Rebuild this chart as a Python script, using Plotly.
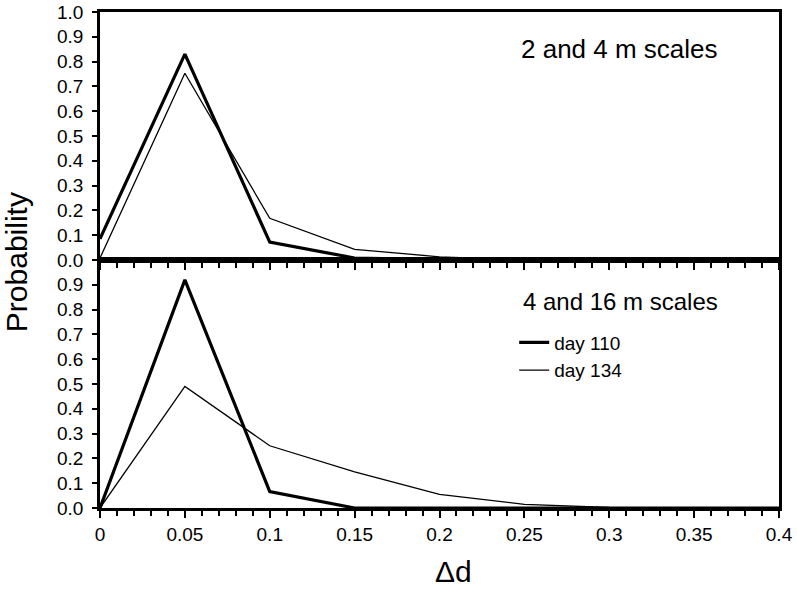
import plotly.graph_objects as go
from plotly.subplots import make_subplots

delta_d = [0, 0.05, 0.1, 0.15, 0.2, 0.25, 0.3, 0.35, 0.4]
top_day110 = [0.085, 0.83, 0.072, 0.008, 0.002, 0, 0, 0, 0]
top_day134 = [0.008, 0.753, 0.168, 0.043, 0.013, 0, 0, 0, 0]
bot_day110 = [0.0, 0.92, 0.066, 0, 0, 0, 0, 0, 0]
bot_day134 = [0.0, 0.49, 0.251, 0.146, 0.055, 0.015, 0.002, 0, 0]

x_ticks = [0, 0.05, 0.1, 0.15, 0.2, 0.25, 0.3, 0.35, 0.4]
x_labels = ["0", "0.05", "0.1", "0.15", "0.2", "0.25", "0.3", "0.35", "0.4"]
y_top_ticks = [round(i * 0.1, 1) for i in range(11)]
y_bot_ticks = [round(i * 0.1, 1) for i in range(10)]

FONT = "Liberation Sans, Arial, sans-serif"

fig = make_subplots(rows=2, cols=1, vertical_spacing=0, shared_xaxes=False)

fig.add_trace(go.Scatter(x=delta_d, y=top_day110, mode="lines",
                         line=dict(color="black", width=3.2), showlegend=False,
                         name="day 110"), row=1, col=1)
fig.add_trace(go.Scatter(x=delta_d, y=top_day134, mode="lines",
                         line=dict(color="black", width=1.3), showlegend=False,
                         name="day 134"), row=1, col=1)
fig.add_trace(go.Scatter(x=delta_d, y=bot_day110, mode="lines",
                         line=dict(color="black", width=3.2), name="day 110"),
              row=2, col=1)
fig.add_trace(go.Scatter(x=delta_d, y=bot_day134, mode="lines",
                         line=dict(color="black", width=1.3), name="day 134"),
              row=2, col=1)

xcommon = dict(range=[0, 0.4], tickvals=x_ticks, ticktext=x_labels,
               ticks="outside", ticklen=7, tickwidth=2, tickcolor="black",
               minor=dict(dtick=0.01, ticks="outside", ticklen=5, tickwidth=1.5,
                          tickcolor="black"),
               showline=True, linecolor="black", linewidth=2.5, mirror=True,
               showgrid=False, zeroline=False, automargin=False,
               tickfont=dict(family=FONT, size=19, color="black"))
fig.update_xaxes(**xcommon)
fig.update_xaxes(showticklabels=False, row=1, col=1)

ycommon = dict(range=[0, 1.0], ticks="outside", ticklen=5, tickwidth=2,
               tickcolor="black", tickformat=".1f",
               showline=True, linecolor="black", linewidth=2.5, mirror=True,
               showgrid=False, zeroline=False, automargin=False,
               tickfont=dict(family=FONT, size=19, color="black"),
               ticklabelstandoff=5)
fig.update_yaxes(**ycommon)
fig.update_yaxes(tickvals=y_top_ticks, row=1, col=1)
fig.update_yaxes(tickvals=y_bot_ticks, row=2, col=1)

fig.add_annotation(text="2 and 4 m scales", xref="x", yref="y",
                   x=0.3655, y=0.851, xanchor="right", yanchor="middle",
                   showarrow=False, font=dict(family=FONT, size=26, color="black"))
fig.add_annotation(text="4 and 16 m scales", xref="x2", yref="y2",
                   x=0.3655, y=0.833, xanchor="right", yanchor="middle",
                   showarrow=False, font=dict(family=FONT, size=24, color="black"))
fig.add_annotation(text="Probability", xref="paper", yref="paper",
                   x=-0.122, y=0.496, textangle=-90, xanchor="center",
                   yanchor="middle", showarrow=False,
                   font=dict(family=FONT, size=30, color="black"))
fig.add_annotation(text="Δd", xref="x2", yref="paper",
                   x=0.208, y=-0.129, xanchor="center", yanchor="middle",
                   showarrow=False, font=dict(family=FONT, size=30, color="black"))

fig.update_layout(
    width=797, height=589,
    margin=dict(l=100, r=18, t=12, b=81, autoexpand=False),
    paper_bgcolor="white", plot_bgcolor="white",
    legend=dict(x=0.61, y=0.372, xanchor="left", yanchor="top",
                bgcolor="rgba(0,0,0,0)", font=dict(family=FONT, size=19, color="black"),
                tracegroupgap=0, itemwidth=30),
)

fig.write_html("out.html", config={"displayModeBar": False},
               post_script="document.body.style.margin='0';document.body.style.padding='0';")
